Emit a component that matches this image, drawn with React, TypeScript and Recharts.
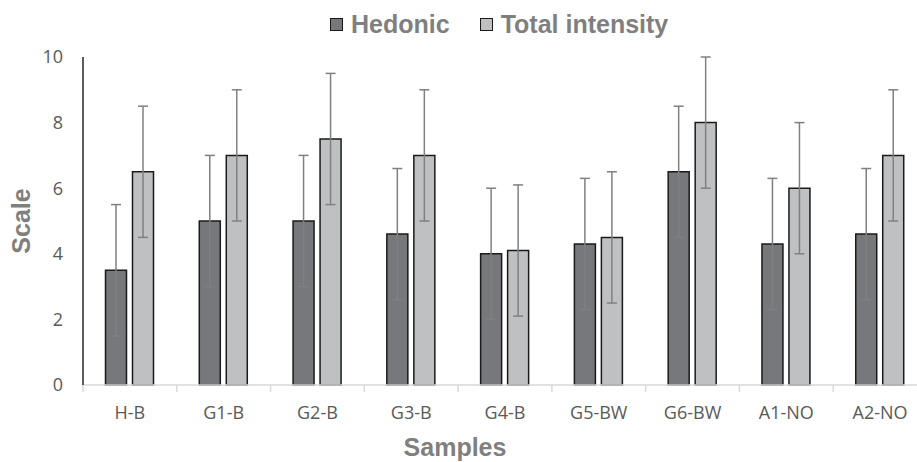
import React from 'react';
import { Bar, BarChart, ErrorBar, Legend, XAxis, YAxis } from 'recharts';

const samples = ['H-B', 'G1-B', 'G2-B', 'G3-B', 'G4-B', 'G5-BW', 'G6-BW', 'A1-NO', 'A2-NO'];
const hedonic = [3.5, 5, 5, 4.6, 4, 4.3, 6.5, 4.3, 4.6];
const totalIntensity = [6.5, 7, 7.5, 7, 4.1, 4.5, 8, 6, 7];
const hedonicErr = [2, 2, 2, 2, 2, 2, 2, 2, 2];
const totalErr = [2, 2, 2, 2, 2, 2, 2, 2, 2];
const yTicks = [0, 2, 4, 6, 8, 10];

const CHART_W = 940;
const CHART_H = 462;
const MARGIN = { top: 57, right: 13, bottom: 0, left: 0 };
const Y_AXIS_W = 83;
const X_AXIS_H = 77;
const HALF_BAND = (CHART_W - MARGIN.left - MARGIN.right - Y_AXIS_W) / samples.length / 2;

const HEDONIC_FILL = '#77787b';
const TOTAL_FILL = '#bfc0c2';
const BAR_STROKE = '#1a1a1a';
const LABEL_GRAY = '#7f7f7f';
const TICK_GRAY = '#595959';

const data = samples.map((name, i) => ({
  name,
  hedonic: hedonic[i],
  total: totalIntensity[i],
  hedonicErr: hedonicErr[i],
  totalErr: totalErr[i]
}));

const SampleTick = (props: any) => {
  const { x, y, payload } = props;
  const bx = x - HALF_BAND;
  return (
    <g>
      <line x1={bx} y1={y} x2={bx} y2={y + 7} stroke="#d9d9d9" strokeWidth={1.5} />
      <text
        x={x}
        y={y + 34}
        textAnchor="middle"
        fill={TICK_GRAY}
        fontSize={18}
        fontFamily="'Open Sans', sans-serif"
      >
        {payload.value}
      </text>
    </g>
  );
};

const legendItems = [
  { label: 'Hedonic', fill: HEDONIC_FILL },
  { label: 'Total intensity', fill: TOTAL_FILL }
];

const LegendContent = () => (
  <div style={{ display: 'flex', alignItems: 'center', lineHeight: 1 }}>
    {legendItems.map((item, i) => (
      <div
        key={item.label}
        style={{ display: 'flex', alignItems: 'center', marginLeft: i === 0 ? 0 : 30 }}
      >
        <span
          style={{
            display: 'inline-block',
            width: 11,
            height: 11,
            background: item.fill,
            border: `1.5px solid ${BAR_STROKE}`,
            marginRight: 8
          }}
        />
        <span
          style={{
            fontFamily: "'Liberation Sans', Arial, sans-serif",
            fontWeight: 'bold',
            fontSize: 25,
            color: LABEL_GRAY
          }}
        >
          {item.label}
        </span>
      </div>
    ))}
  </div>
);

export default function App() {
  return (
    <div
      style={{
        position: 'fixed',
        left: 0,
        top: 0,
        width: 917,
        height: 462,
        overflow: 'hidden',
        background: '#fff'
      }}
    >
      <BarChart
        width={CHART_W}
        height={CHART_H}
        data={data}
        margin={MARGIN}
        barCategoryGap="24%"
        barGap={6}
      >
        <XAxis
          dataKey="name"
          height={X_AXIS_H}
          axisLine={{ stroke: '#d9d9d9', strokeWidth: 1.5 }}
          tickLine={false}
          tickSize={0}
          tickMargin={0}
          tick={<SampleTick />}
          interval={0}
          label={{
            value: 'Samples',
            position: 'insideBottom',
            offset: 6,
            dx: -50,
            fill: LABEL_GRAY,
            fontSize: 25,
            fontWeight: 'bold',
            fontFamily: "'Liberation Sans', Arial, sans-serif"
          }}
        />
        <YAxis
          width={Y_AXIS_W}
          domain={[0, 10]}
          ticks={yTicks}
          axisLine={{ stroke: '#262626', strokeWidth: 1.5 }}
          tickLine={false}
          tickSize={0}
          tickMargin={20}
          tick={{ fill: TICK_GRAY, fontSize: 18, fontFamily: "'Open Sans', sans-serif" }}
          label={{
            value: 'Scale',
            angle: -90,
            position: 'center',
            dx: -20,
            fill: LABEL_GRAY,
            fontSize: 25,
            fontWeight: 'bold',
            fontFamily: "'Liberation Sans', Arial, sans-serif"
          }}
        />
        <Legend
          verticalAlign="middle"
          align="center"
          layout="horizontal"
          content={<LegendContent />}
          wrapperStyle={{ top: 12, left: 330, width: 380 }}
        />
        <Bar
          dataKey="hedonic"
          name="Hedonic"
          fill={HEDONIC_FILL}
          stroke={BAR_STROKE}
          strokeWidth={1.5}
          isAnimationActive={false}
        >
          <ErrorBar dataKey="hedonicErr" width={5} stroke="#808080" strokeWidth={1.5} />
        </Bar>
        <Bar
          dataKey="total"
          name="Total intensity"
          fill={TOTAL_FILL}
          stroke={BAR_STROKE}
          strokeWidth={1.5}
          isAnimationActive={false}
        >
          <ErrorBar dataKey="totalErr" width={5} stroke="#808080" strokeWidth={1.5} />
        </Bar>
      </BarChart>
    </div>
  );
}
